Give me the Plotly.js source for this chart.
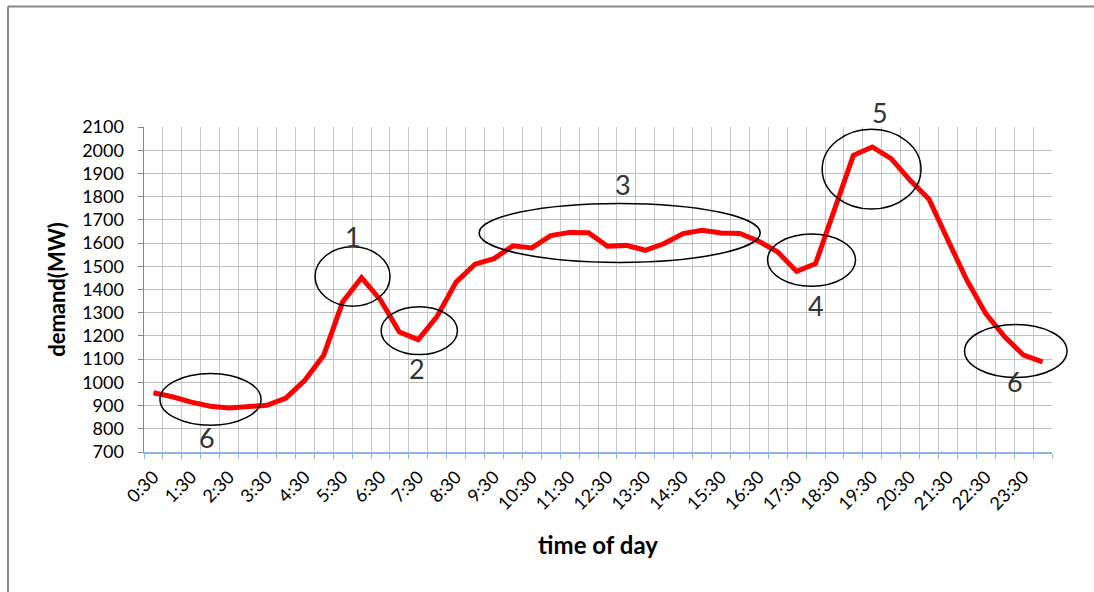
<!DOCTYPE html>
<html>
<head>
<meta charset="utf-8">
<script src="https://cdn.plot.ly/plotly-3.0.1.min.js"></script>
<style>html,body{margin:0;padding:0;background:#fff;}#chart{width:1094px;height:592px;}</style>
</head>
<body>
<div id="chart"></div>
<script>
// half-hourly time categories
const times = ["0:30","1:00","1:30","2:00","2:30","3:00","3:30","4:00","4:30","5:00","5:30","6:00",
  "6:30","7:00","7:30","8:00","8:30","9:00","9:30","10:00","10:30","11:00","11:30","12:00",
  "12:30","13:00","13:30","14:00","14:30","15:00","15:30","16:00","16:30","17:00","17:30","18:00",
  "18:30","19:00","19:30","20:00","20:30","21:00","21:30","22:00","22:30","23:00","23:30","24:00"];
// demand in MW
const demand = [955,938,915,897,890,895,901,932,1009,1117,1346,1451,
  1355,1217,1184,1285,1432,1509,1533,1588,1579,1632,1646,1645,
  1586,1590,1569,1598,1641,1655,1643,1641,1608,1562,1478,1511,
  1745,1978,2014,1964,1870,1789,1612,1440,1296,1196,1117,1088];
const yTicks = [700,800,900,1000,1100,1200,1300,1400,1500,1600,1700,1800,1900,2000,2100];
const noteLabels = ["6","1","2","3","4","5","6"];

const font = "Lato, 'Open Sans', sans-serif";

const trace = {
  x: times, y: demand, type: "scatter", mode: "lines",
  line: {color: "#ff0000", width: 5}, hoverinfo: "x+y"
};

// annotation ellipses (paper coordinates)
const ell = [
  [0.0176,0.0822,0.1289,0.2415],
  [0.1884,0.4487,0.2710,0.6313],
  [0.2611,0.3000,0.3452,0.4466],
  [0.3691,0.5833,0.6786,0.7650],
  [0.6867,0.5103,0.7836,0.6705],
  [0.7469,0.7475,0.8557,0.9929],
  [0.9037,0.2291,1.0165,0.3924]
];
const notePos = [[0.0694,0.0453],[0.2303,0.6643],[0.3008,0.2578],[0.5277,0.8244],[0.7403,0.4518],[0.8108,1.0431],[0.9596,0.2177]];

const shapes = ell.map(e => ({
  type: "circle", xref: "paper", yref: "paper",
  x0: e[0], y0: e[1], x1: e[2], y1: e[3],
  line: {color: "#000", width: 1.5}
}));
// outer frame (left and top edges)
shapes.push({type: "line", xref: "paper", yref: "paper", x0: -0.1498, x1: -0.1498, y0: -0.45, y1: 1.371, line: {color: "#888", width: 2}});
shapes.push({type: "line", xref: "paper", yref: "paper", x0: -0.1498, x1: 1.06, y0: 1.371, y1: 1.371, line: {color: "#888", width: 2}});

const annotations = noteLabels.map((t, i) => ({
  text: t, xref: "paper", yref: "paper", x: notePos[i][0], y: notePos[i][1],
  showarrow: false, xanchor: "center", yanchor: "middle",
  font: {family: font, size: 27, color: "#333"}
}));

const layout = {
  width: 1094, height: 592,
  margin: {l: 144, r: 42, t: 127, b: 140, pad: 0},
  paper_bgcolor: "#fff", plot_bgcolor: "#fff",
  showlegend: false,
  xaxis: {
    type: "category", range: [-0.5, times.length - 0.5],
    tickmode: "linear", tick0: 0, dtick: 1, ticklabelstep: 2,
    tickson: "boundaries", tickangle: -45,
    ticks: "outside", ticklen: 5, tickcolor: "#8eb4e3", tickwidth: 1,
    showline: true, linecolor: "#8eb4e3", linewidth: 1.5,
    showgrid: true, gridcolor: "#c8c8c8", gridwidth: 1,
    ticklabelstandoff: 6,
    tickfont: {family: font, size: 18, color: "#000"},
    title: {text: "time of day", font: {family: font, size: 24, color: "#000", weight: "bold"}, standoff: 24},
    automargin: false, fixedrange: true
  },
  yaxis: {
    range: [700, 2100], tickmode: "array", tickvals: yTicks,
    ticks: "outside", ticklen: 5, tickcolor: "#888",
    showline: true, linecolor: "#888", linewidth: 1.5,
    showgrid: true, gridcolor: "#c0c0c0", gridwidth: 1, zeroline: false,
    ticklabelstandoff: 10,
    tickfont: {family: font, size: 18, color: "#000"},
    title: {text: "demand(MW)", font: {family: font, size: 22, color: "#000", weight: "bold"}, standoff: 10},
    automargin: false, fixedrange: true
  },
  shapes: shapes,
  annotations: annotations
};

Plotly.newPlot("chart", [trace], layout, {displayModeBar: false, staticPlot: true});
</script>
</body>
</html>
